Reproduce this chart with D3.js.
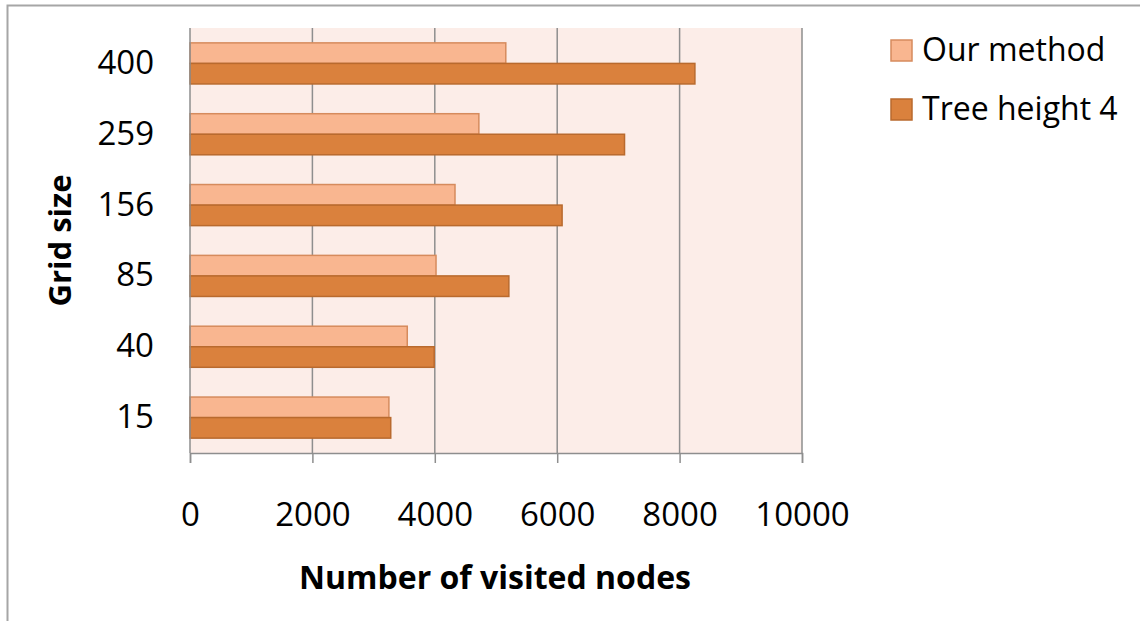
<!DOCTYPE html>
<html>
<head>
<meta charset="utf-8">
<script src="https://cdn.jsdelivr.net/npm/d3@7"></script>
<style>
  html, body { margin: 0; padding: 0; background: #ffffff; }
  svg { display: block; }
  text { font-family: "Open Sans", "Noto Sans", sans-serif; fill: #000; }
</style>
</head>
<body>
<svg id="chart" width="1140" height="621"></svg>
<script>
// Grid sizes, top to bottom
const categories = ["400", "259", "156", "85", "40", "15"];
const ourMethod = [5160, 4720, 4330, 4020, 3550, 3250];
const treeHeight4 = [8250, 7100, 6080, 5210, 3990, 3280];
const seriesNames = ["Our method", "Tree height 4"];
const xTicks = [0, 2000, 4000, 6000, 8000, 10000];

const colors = {
  fill: ["#f9b690", "#da813d"],
  stroke: ["#d68b5d", "#b96a2e"]
};

const svg = d3.select("#chart");

// outer frame
svg.append("rect")
  .attr("x", 7.5).attr("y", 5.5)
  .attr("width", 1140).attr("height", 640)
  .attr("fill", "none").attr("stroke", "#a6a6a6").attr("stroke-width", 2);

const plot = { left: 190, right: 802, top: 28, bottom: 453 };

const x = d3.scaleLinear().domain([0, 10000]).range([plot.left, plot.right]);
const y = d3.scaleBand().domain(categories).range([plot.top, plot.bottom])
  .paddingInner(0.42).paddingOuter(0.21);
const sub = d3.scaleBand().domain([0, 1]).range([0, y.bandwidth()]);

// plot area background
svg.append("rect")
  .attr("x", plot.left).attr("y", plot.top)
  .attr("width", plot.right - plot.left).attr("height", plot.bottom - plot.top)
  .attr("fill", "#fcede8");

// vertical gridlines
svg.append("g").selectAll("line")
  .data(xTicks.slice(1))
  .join("line")
  .attr("x1", d => x(d)).attr("x2", d => x(d))
  .attr("y1", plot.top).attr("y2", plot.bottom)
  .attr("stroke", "#8e8e8e").attr("stroke-width", 1.5);

// bars
const rows = categories.map((c, i) => ({ c, vals: [ourMethod[i], treeHeight4[i]] }));
const groups = svg.append("g").selectAll("g")
  .data(rows)
  .join("g")
  .attr("transform", d => `translate(0,${y(d.c)})`);
groups.selectAll("rect")
  .data(d => d.vals.map((v, k) => ({ v, k })))
  .join("rect")
  .attr("x", x(0))
  .attr("y", d => sub(d.k))
  .attr("width", d => x(d.v) - x(0))
  .attr("height", sub.bandwidth())
  .attr("fill", d => colors.fill[d.k])
  .attr("stroke", d => colors.stroke[d.k])
  .attr("stroke-width", 1.5);

// x axis
const xAxis = svg.append("g")
  .attr("transform", `translate(0,${plot.bottom})`)
  .call(d3.axisBottom(x).tickValues(xTicks).tickFormat(d3.format("d")).tickSize(10).tickPadding(40));
xAxis.select(".domain").attr("stroke", "#8e8e8e").attr("stroke-width", 1.5);
xAxis.selectAll(".tick line").attr("stroke", "#8e8e8e").attr("stroke-width", 1.5);
xAxis.selectAll(".tick text")
  .attr("font-size", 33).attr("font-family", "Open Sans").attr("fill", "#000");

// y axis
const yAxis = svg.append("g")
  .attr("transform", `translate(${plot.left},0)`)
  .call(d3.axisLeft(y).tickSize(0).tickPadding(36));
yAxis.select(".domain").attr("stroke", "#8e8e8e").attr("stroke-width", 1.5)
  .attr("d", `M0,${plot.top}V${plot.bottom}`);
yAxis.selectAll(".tick text")
  .attr("font-size", 33).attr("font-family", "Open Sans").attr("fill", "#000");

// axis titles
svg.append("text")
  .attr("x", (plot.left + plot.right) / 2 - 1).attr("y", 589)
  .attr("text-anchor", "middle")
  .attr("font-size", 32).attr("font-weight", "bold")
  .text("Number of visited nodes");

svg.append("text")
  .attr("transform", `translate(71,${(plot.top + plot.bottom) / 2}) rotate(-90)`)
  .attr("text-anchor", "middle")
  .attr("font-size", 31).attr("font-weight", "bold")
  .text("Grid size");

// legend
const legend = svg.append("g").selectAll("g")
  .data(seriesNames)
  .join("g")
  .attr("transform", (d, i) => `translate(891,${40 + i * 59})`);
legend.append("rect")
  .attr("width", 21).attr("height", 21)
  .attr("fill", (d, i) => colors.fill[i])
  .attr("stroke", (d, i) => colors.stroke[i])
  .attr("stroke-width", 1.5);
legend.append("text")
  .attr("x", 31).attr("y", 21)
  .attr("font-size", 32)
  .text(d => d);
</script>
</body>
</html>
